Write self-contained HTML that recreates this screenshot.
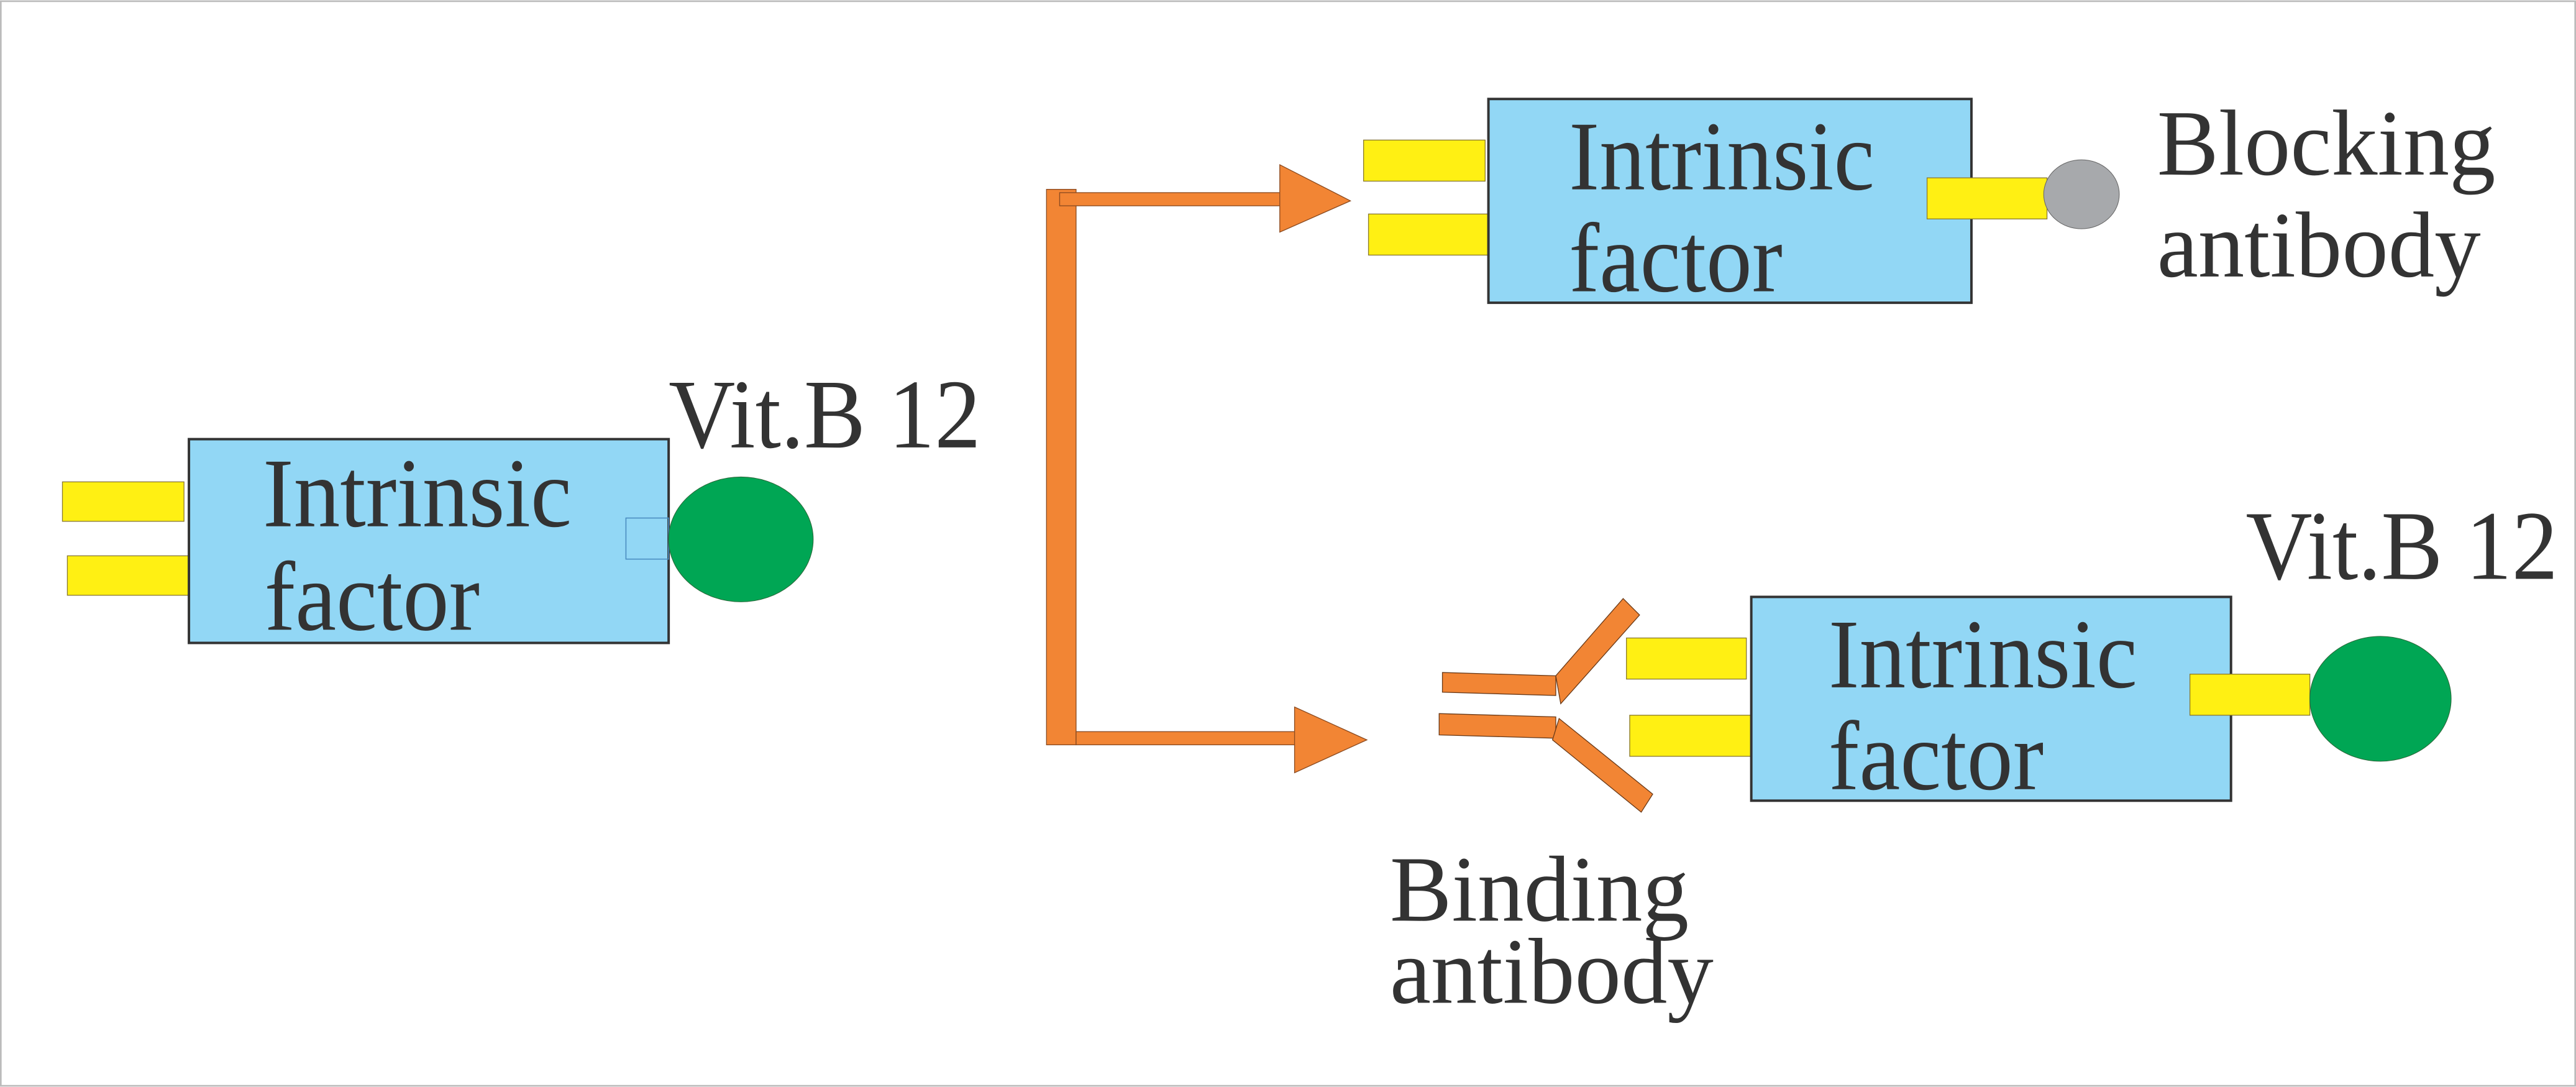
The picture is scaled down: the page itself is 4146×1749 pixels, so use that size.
<!DOCTYPE html>
<html><head><style>html,body{margin:0;padding:0;background:#fff}svg{display:block}text{font-family:"Liberation Serif","DejaVu Serif",serif}</style></head>
<body>
<svg width="4146" height="1749" viewBox="0 0 1568 661" xmlns="http://www.w3.org/2000/svg" fill="#333">
<rect x="0.5" y="0.5" width="1567" height="660" fill="#fff" stroke="#bbb" stroke-width="1"/>
<!-- Left group -->
<rect x="38" y="293" width="74" height="24" fill="#fff013" stroke="#8a7a30" stroke-width="0.5"/>
<rect x="41" y="338" width="74" height="24" fill="#fff013" stroke="#8a7a30" stroke-width="0.5"/>
<rect x="115" y="267" width="292" height="124" fill="#92d7f5" stroke="#333" stroke-width="1.5"/>
<rect x="381" y="315" width="26" height="25" fill="none" stroke="#4a8cc0" stroke-width="0.6"/>
<ellipse cx="451" cy="328" rx="44" ry="38" fill="#00a654" stroke="#2a6a3a" stroke-width="0.4"/>
<text x="160" y="320" font-size="60" textLength="188" lengthAdjust="spacingAndGlyphs">Intrinsic</text>
<text x="161" y="383" font-size="60" textLength="131" lengthAdjust="spacingAndGlyphs">factor</text>
<text x="407" y="272" font-size="60" textLength="190" lengthAdjust="spacingAndGlyphs">Vit.B 12</text>
<!-- Arrows -->
<g fill="#f28534" stroke="#8a4a20" stroke-width="0.5">
<rect x="637" y="115" width="18" height="338"/>
<rect x="645" y="117" width="136" height="8"/>
<polygon points="779,100 822,122 779,141"/>
<rect x="655" y="445" width="135" height="8"/>
<polygon points="788,430 832,450 788,470"/>
</g>
<!-- Top group -->
<rect x="830" y="85" width="74" height="25" fill="#fff013" stroke="#8a7a30" stroke-width="0.5"/>
<rect x="833" y="130" width="74" height="25" fill="#fff013" stroke="#8a7a30" stroke-width="0.5"/>
<rect x="906" y="60" width="294" height="124" fill="#92d7f5" stroke="#333" stroke-width="1.5"/>
<rect x="1173" y="108" width="73" height="25" fill="#fff013" stroke="#8a7a30" stroke-width="0.5"/>
<ellipse cx="1267" cy="118" rx="23" ry="21" fill="#a7a9ac" stroke="#666" stroke-width="0.4"/>
<text x="955" y="115" font-size="60" textLength="186" lengthAdjust="spacingAndGlyphs">Intrinsic</text>
<text x="955" y="177" font-size="60" textLength="130" lengthAdjust="spacingAndGlyphs">factor</text>
<text x="1313" y="106" font-size="57" textLength="206" lengthAdjust="spacingAndGlyphs">Blocking</text>
<text x="1313" y="168" font-size="57" textLength="197" lengthAdjust="spacingAndGlyphs">antibody</text>
<!-- Bottom group -->
<g fill="#f28534" stroke="#6a3a18" stroke-width="0.5">
<polygon points="878,409 947,411 947,423 878,421"/>
<polygon points="947,411 988,364 998,374 950,428"/>
<polygon points="876,434 947,436 947,449 876,447"/>
<polygon points="949,437 1006,483 999,494 945,450"/>
</g>
<rect x="990" y="388" width="73" height="25" fill="#fff013" stroke="#8a7a30" stroke-width="0.5"/>
<rect x="992" y="435" width="74" height="25" fill="#fff013" stroke="#8a7a30" stroke-width="0.5"/>
<rect x="1066" y="363" width="292" height="124" fill="#92d7f5" stroke="#333" stroke-width="1.5"/>
<rect x="1333" y="410" width="73" height="25" fill="#fff013" stroke="#8a7a30" stroke-width="0.5"/>
<ellipse cx="1449" cy="425" rx="43" ry="38" fill="#00a654" stroke="#2a6a3a" stroke-width="0.4"/>
<text x="1113" y="418" font-size="60" textLength="188" lengthAdjust="spacingAndGlyphs">Intrinsic</text>
<text x="1113" y="480" font-size="60" textLength="131" lengthAdjust="spacingAndGlyphs">factor</text>
<text x="1367" y="352" font-size="60" textLength="190" lengthAdjust="spacingAndGlyphs">Vit.B 12</text>
<text x="846" y="560" font-size="57" textLength="182" lengthAdjust="spacingAndGlyphs">Binding</text>
<text x="846" y="610" font-size="57" textLength="197" lengthAdjust="spacingAndGlyphs">antibody</text>
</svg>
</body></html>
